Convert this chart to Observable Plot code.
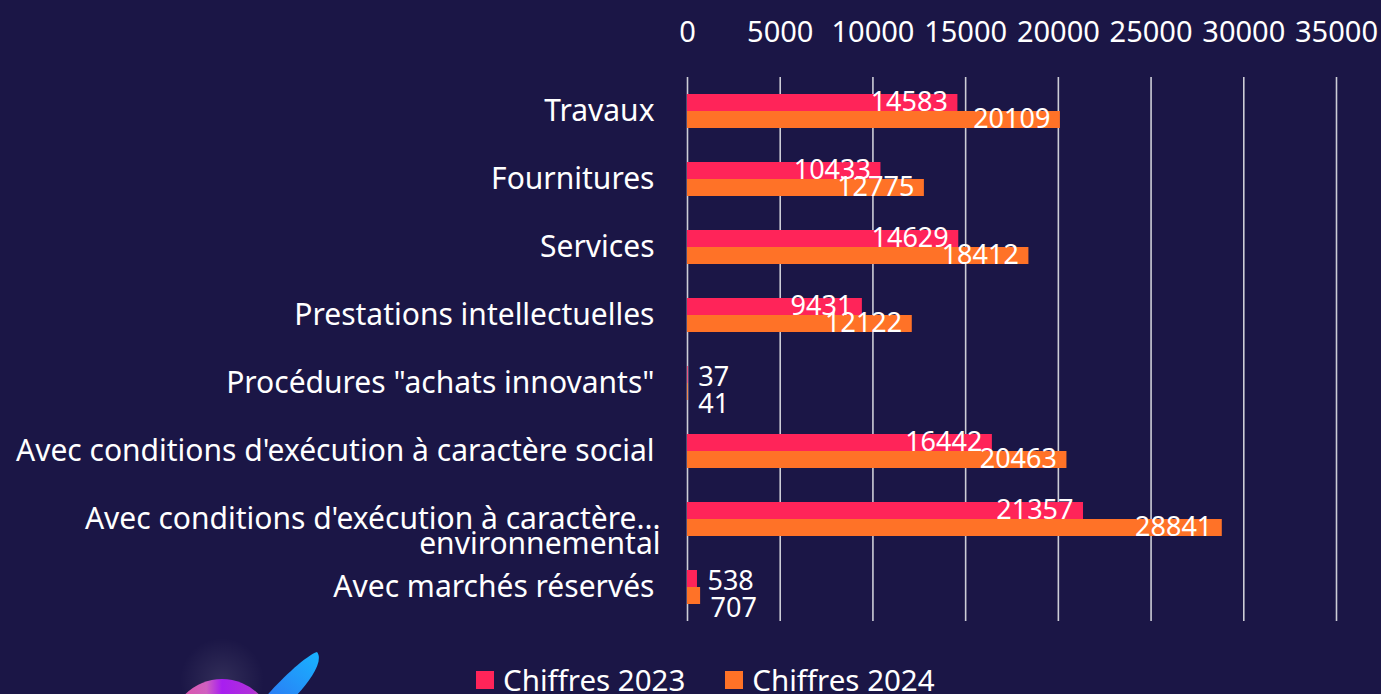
<!DOCTYPE html>
<html><head><meta charset="utf-8">
<script src="https://cdn.jsdelivr.net/npm/d3@7"></script>
<script src="https://cdn.jsdelivr.net/npm/@observablehq/plot@0.6"></script>
<style>
html,body{margin:0;padding:0;background:#1b1646;overflow:hidden;}
body{width:1381px;height:694px;position:relative;font-family:"Noto Sans",sans-serif;}
#chart{position:absolute;left:0;top:0;}
#legend{position:absolute;left:476px;top:663px;display:flex;align-items:center;color:#fff;font-size:29.5px;line-height:34px;white-space:nowrap;}
#legend .sw{width:18px;height:18px;display:inline-block;margin-right:9px;}
#legend .item{display:flex;align-items:center;margin-right:40px;}
#logo{position:absolute;left:0;top:630px;}
</style></head><body>
<div id="chart"></div>
<div id="legend"></div>
<svg id="logo" width="400" height="64" viewBox="0 630 400 64">
  <defs>
    <radialGradient id="glow" cx="0.5" cy="0.5" r="0.5">
      <stop offset="0" stop-color="#ffffff" stop-opacity="0.10"/>
      <stop offset="1" stop-color="#ffffff" stop-opacity="0"/>
    </radialGradient>
    <linearGradient id="planet" x1="0" y1="0" x2="1" y2="0">
      <stop offset="0" stop-color="#e0509e"/>
      <stop offset="0.35" stop-color="#d060c0"/>
      <stop offset="0.5" stop-color="#a81ef0"/>
      <stop offset="0.8" stop-color="#b030d8"/>
      <stop offset="1" stop-color="#f0906a"/>
    </linearGradient>
    <linearGradient id="ring" x1="1" y1="0" x2="0" y2="1">
      <stop offset="0" stop-color="#18b4ff"/>
      <stop offset="1" stop-color="#2c78f4"/>
    </linearGradient>
  </defs>
  <circle cx="222" cy="680" r="42" fill="url(#glow)"/>
  <circle cx="222" cy="731" r="52" fill="url(#planet)"/>
  <path d="M317 652 C305 656, 278 682, 263 700 L292 700 C306 686, 325 662, 317 652 Z" fill="url(#ring)"/>
</svg>
<script>
const categories = [
  "Travaux",
  "Fournitures",
  "Services",
  "Prestations intellectuelles",
  "Procédures \"achats innovants\"",
  "Avec conditions d'exécution à caractère social",
  "Avec conditions d'exécution à caractère environnemental",
  "Avec marchés réservés"
];
const series = ["Chiffres 2023", "Chiffres 2024"];
const values2023 = [14583, 10433, 14629, 9431, 37, 16442, 21357, 538];
const values2024 = [20109, 12775, 18412, 12122, 41, 20463, 28841, 707];
const xTicks = [0, 5000, 10000, 15000, 20000, 25000, 30000, 35000];
const colors = ["#ff2459", "#ff7227"];

const data = categories.flatMap((c, i) => [
  {category: c, series: series[0], value: values2023[i]},
  {category: c, series: series[1], value: values2024[i]}
]);

const MAXLEN = 48;
const isLong = s => s.length > MAXLEN;
function wrapLabel(s) {
  if (!isLong(s)) return s;
  const i = s.lastIndexOf(" ");
  return s.slice(0, i) + "...\n" + s.slice(i + 1);
}
const longCats = categories.filter(isLong);

const inside = d => d.value >= 3000;

const chart = Plot.plot({
  width: 1381,
  height: 650,
  marginLeft: 687,
  marginRight: 45,
  marginTop: 77,
  marginBottom: 29,
  style: {background: "transparent", color: "#fff", fontFamily: "Noto Sans, sans-serif"},
  x: {domain: [0, 35000]},
  fy: {domain: categories, padding: 0},
  y: {domain: series, paddingInner: 0, paddingOuter: 0.926, axis: null},
  color: {domain: series, range: colors},
  marks: [
    Plot.gridX(xTicks, {stroke: "#cdcdd6", strokeOpacity: 1, strokeWidth: 1.6}),
    Plot.axisX(xTicks, {anchor: "top", tickSize: 0, tickPadding: 36, fontSize: 29, fill: "#fff", label: null, tickFormat: d => String(d)}),
    Plot.axisFy({anchor: "left", tickSize: 0, tickPadding: 33, fontSize: 30, fill: "#fff", label: null, tickFormat: d => isLong(d) ? "" : d}),
    Plot.text(longCats, {fy: d => d, text: wrapLabel, frameAnchor: "left", textAnchor: "end", dx: -27, dy: 14, lineHeight: 0.83, fontSize: 30, fill: "#fff"}),
    Plot.barX(data, {x: "value", y: "series", fy: "category", fill: "series"}),
    Plot.text(data, {filter: inside, x: "value", y: "series", fy: "category", text: d => String(d.value), textAnchor: "end", dx: -10, dy: -1, fill: "#fff", fontSize: 27}),
    Plot.text(data, {filter: d => !inside(d) && d.series === series[0], x: "value", y: "series", fy: "category", text: d => String(d.value), textAnchor: "start", dx: 10, dy: 2, fill: "#fff", fontSize: 27}),
    Plot.text(data, {filter: d => !inside(d) && d.series === series[1], x: "value", y: "series", fy: "category", text: d => String(d.value), textAnchor: "start", dx: 10, dy: 12, fill: "#fff", fontSize: 27})
  ]
});
document.getElementById("chart").appendChild(chart);

const legend = document.getElementById("legend");
series.forEach((s, i) => {
  const item = document.createElement("div");
  item.className = "item";
  const sw = document.createElement("span");
  sw.className = "sw";
  sw.style.background = colors[i];
  const label = document.createElement("span");
  label.textContent = s;
  item.appendChild(sw);
  item.appendChild(label);
  legend.appendChild(item);
});
</script>
</body></html>
